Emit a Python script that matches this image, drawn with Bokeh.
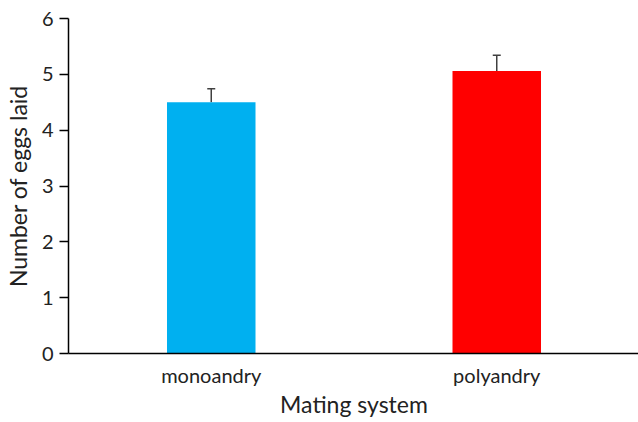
from bokeh.plotting import figure
from bokeh.models import ColumnDataSource, Whisker, Range1d, FactorRange, TeeHead
from bokeh.embed import file_html
from bokeh.resources import INLINE

categories = ["monoandry", "polyandry"]
means = [4.50, 5.06]
errors = [0.24, 0.28]
colors = ["#00B0F0", "#FF0000"]
upper = [m + e for m, e in zip(means, errors)]

src = ColumnDataSource(dict(cat=categories, mean=means, upper=upper, color=colors))

FONT = "Lato"
p = figure(frame_width=571, frame_height=335,
           x_range=FactorRange(*categories, range_padding=0),
           y_range=Range1d(0, 6), output_backend="svg", toolbar_location=None,
           min_border_left=59, min_border_right=0, min_border_top=18, min_border_bottom=0)
p.vbar(x="cat", top="mean", width=0.31, color="color", source=src, line_color=None)
w = Whisker(base="cat", lower="mean", upper="upper", source=src,
            line_color="#404040", line_width=1.5,
            upper_head=TeeHead(size=8, line_color="#404040", line_width=1.5),
            lower_head=None)
p.add_layout(w)

p.outline_line_color = None
p.grid.grid_line_color = None
p.background_fill_color = "white"

p.yaxis.ticker = [0, 1, 2, 3, 4, 5, 6]
p.yaxis.axis_label = "Number of eggs laid"
p.xaxis.axis_label = "Mating system"
for ax in (p.xaxis[0], p.yaxis[0]):
    ax.axis_line_color = "black"
    ax.axis_line_width = 1.5
    ax.major_label_text_font = FONT
    ax.major_label_text_font_size = "20px"
    ax.major_label_text_color = "#222222"
    ax.axis_label_text_font = FONT
    ax.axis_label_text_font_size = "23px"
    ax.axis_label_text_font_style = "normal"
    ax.axis_label_text_color = "#222222"
    ax.minor_tick_line_color = None
p.yaxis.major_tick_out = 9
p.yaxis.major_tick_in = 0
p.yaxis.major_tick_line_color = "black"
p.yaxis.major_tick_line_width = 1.5
p.yaxis.major_label_standoff = 6
p.yaxis.axis_label_standoff = 7
p.xaxis.major_tick_line_color = None
p.xaxis.major_label_standoff = 3
p.xaxis.axis_label_standoff = 0

open("out.html", "w").write(file_html(p, INLINE))
